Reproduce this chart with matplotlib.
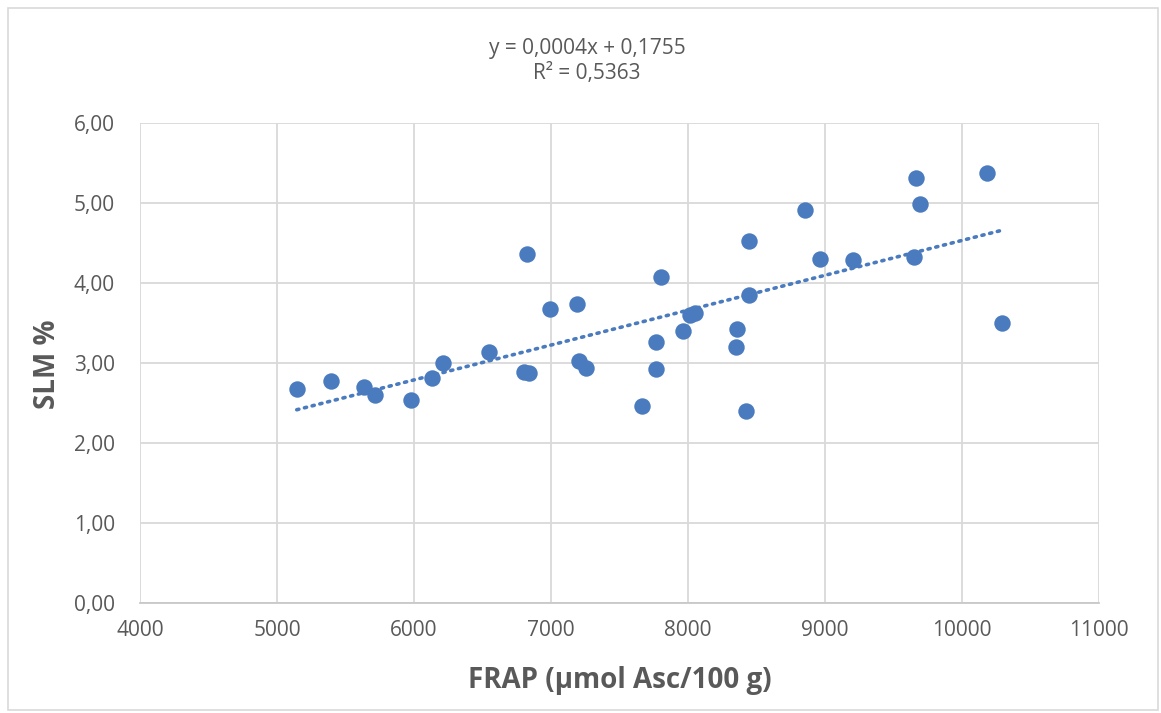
import numpy as np
import matplotlib
matplotlib.use('Agg')
import matplotlib.pyplot as plt
from matplotlib.patches import Rectangle

# values
frap = [5144, 5394, 5635, 5713, 5975, 6131, 6212, 6547, 6822, 6803,
        6841, 6993, 7190, 7202, 7258, 7666, 7763, 7770, 7802, 7966,
        8012, 8051, 8359, 8347, 8425, 8445, 8445, 8856, 8966, 9207,
        9650, 9664, 9696, 10184, 10292]
slm = [2.67, 2.78, 2.70, 2.60, 2.54, 2.81, 3.00, 3.14, 4.36, 2.89,
       2.88, 3.67, 3.74, 3.03, 2.94, 2.46, 3.26, 2.93, 4.08, 3.40,
       3.60, 3.62, 3.42, 3.20, 2.40, 4.53, 3.85, 4.91, 4.30, 4.29,
       4.33, 5.31, 4.99, 5.37, 3.50]
x_ticks = [4000, 5000, 6000, 7000, 8000, 9000, 10000, 11000]
y_ticks = [0, 1, 2, 3, 4, 5, 6]
eq_text = 'y = 0,0004x + 0,1755\nR² = 0,5363'

blue = '#4a7bbf'
grey_txt = '#595959'
grid_col = '#d9d9d9'

plt.rcParams['font.family'] = ['Open Sans', 'DejaVu Sans']

fig = plt.figure(figsize=(11.61, 7.13), dpi=100)
ax = fig.add_axes([0.1206, 0.1543, 0.8260, 0.6732])

ax.scatter(frap, slm, s=140, color=blue, zorder=3, linewidths=0)

# linear trend line over the data range
coef = np.polyfit(frap, slm, 1)
xs = np.array([min(frap), max(frap)])
ax.plot(xs, np.polyval(coef, xs), color=blue, lw=2.6, linestyle=(0, (0.6, 1.6)),
        dash_capstyle='round', zorder=2)

ax.set_xlim(4000, 11000)
ax.set_ylim(0, 6)
ax.set_xticks(x_ticks)
ax.set_yticks(y_ticks)
ax.set_yticklabels([f'{v:.2f}'.replace('.', ',') for v in y_ticks])
ax.grid(True, color=grid_col, lw=1.3)
ax.set_axisbelow(True)
for s in ['top', 'right', 'left']:
    ax.spines[s].set_visible(False)
ax.spines['bottom'].set_color('#c8c8c8')
ax.spines['bottom'].set_linewidth(1.3)
ax.tick_params(length=0, labelsize=15, labelcolor=grey_txt)
ax.tick_params(axis='y', pad=18)
ax.tick_params(axis='x', pad=12)

fig.text(0.1206 + 0.826 / 2, 0.046, 'FRAP (µmol Asc/100 g)', ha='center', va='center',
         fontsize=20, fontweight='bold', color=grey_txt)
fig.text(0.041, 1 - 364 / 713, 'SLM %', rotation=90, ha='center', va='center',
         fontsize=20, fontweight='bold', color=grey_txt)
fig.text(587 / 1161, 1 - 61 / 713, eq_text, ha='center', va='center',
         fontsize=15, color=grey_txt, linespacing=1.3)

fig.patches.append(Rectangle((8 / 1161, 3 / 713), 1150 / 1161, 702 / 713, transform=fig.transFigure,
                             fill=False, edgecolor='#d9d9d9', lw=1.2))

fig.savefig('out.png', dpi=100)
